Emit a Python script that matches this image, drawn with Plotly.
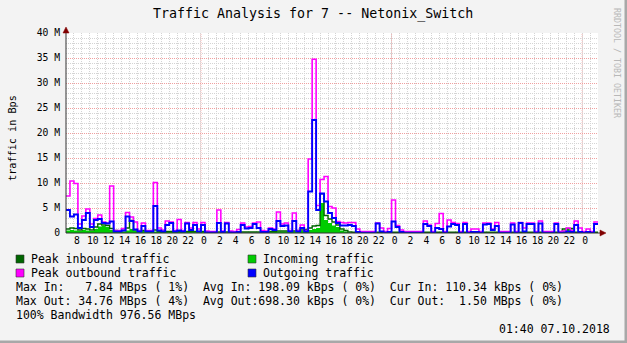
import plotly.graph_objects as go

# ---------------- data (hours since 04.10.2018 00:00, 30-minute bins from 07:00) ----------------
start_hour = 7.0
bin_hours = 0.5

peak_out = [7.4, 10.4, 9.9, 1.8, 3.4, 4.8, 1.8, 2.9, 3.6, 2.2,
            2.0, 9.4, 0.5, 0.5, 0.9, 4.1, 3.2, 2.2, 0.5, 2.0,
            0.5, 0.5, 10.1, 1.0, 0.6, 2.4, 2.2, 0.5, 2.7, 0.5,
            2.1, 1.0, 2.1, 0.8, 2.1, 0.4, 0.3, 0.3, 4.6, 0.4,
            2.1, 0.4, 0.3, 0.7, 2.0, 1.2, 1.3, 2.0, 2.2, 0.5,
            0.4, 1.0, 0.8, 4.2, 1.8, 2.0, 0.5, 4.0, 0.5, 1.6,
            0.5, 14.8, 34.76, 5.5, 10.7, 11.3, 5.3, 5.0, 2.3, 2.1,
            2.0, 2.1, 2.1, 0.8, 0.3, 0.3, 0.3, 0.3, 2.0, 1.0,
            0.3, 0.9, 6.6, 1.5, 0.6, 0.3, 0.3, 0.3, 0.3, 0.3,
            2.4, 1.6, 0.3, 1.9, 3.9, 0.3, 2.6, 2.1, 1.9, 0.3,
            2.1, 0.3, 0.8, 0.8, 0.3, 2.0, 2.0, 0.8, 2.1, 0.3,
            0.3, 0.3, 2.0, 0.3, 2.1, 1.0, 2.0, 2.0, 0.3, 2.4,
            0.3, 0.3, 0.3, 2.0, 0.3, 0.4, 1.0, 0.5, 2.4, 1.0,
            0.3, 0.8, 0.3, 2.2]

outgoing = [4.6, 3.3, 3.7, 1.0, 2.6, 4.0, 1.2, 2.6, 2.8, 2.0,
            1.9, 2.3, 0.3, 0.3, 0.5, 3.3, 2.4, 0.7, 0.3, 1.4,
            0.3, 0.3, 5.4, 0.5, 0.3, 1.6, 2.0, 0.3, 0.5, 0.3,
            1.9, 0.6, 1.6, 0.3, 1.6, 0.1, 0.1, 0.1, 2.0, 0.2,
            1.9, 0.1, 0.1, 0.2, 1.6, 0.9, 1.0, 1.8, 1.0, 0.2,
            0.2, 0.8, 0.6, 2.4, 1.4, 1.5, 0.3, 2.4, 0.3, 1.0,
            0.3, 8.3, 22.6, 4.6, 7.9, 6.3, 4.0, 3.0, 2.0, 1.5,
            1.5, 1.6, 1.4, 0.2, 0.05, 0.05, 0.05, 0.05, 1.9, 0.3,
            0.05, 0.2, 2.3, 1.2, 0.2, 0.05, 0.05, 0.05, 0.05, 0.05,
            1.8, 1.4, 0.05, 1.0, 0.8, 0.05, 1.3, 1.8, 1.6, 0.05,
            1.8, 0.05, 0.2, 0.2, 0.05, 1.7, 1.8, 0.6, 1.4, 0.05,
            0.05, 0.05, 1.7, 0.05, 2.0, 0.3, 1.8, 1.8, 0.05, 1.9,
            0.05, 0.05, 0.05, 1.8, 0.05, 0.05, 0.3, 0.2, 1.6, 0.2,
            0.05, 0.2, 0.05, 1.8]

incoming = [0.5, 0.6, 0.5, 0.4, 0.6, 0.5, 0.4, 0.8, 1.3, 1.4,
            1.2, 0.6, 0.3, 0.3, 0.3, 0.5, 0.8, 0.4, 0.3, 0.4,
            0.3, 0.3, 0.3, 0.2, 0.2, 0.2, 0.2, 0.2, 0.2, 0.2,
            0.2, 0.2, 0.2, 0.2, 0.2, 0.1, 0.1, 0.1, 0.1, 0.1,
            0.1, 0.1, 0.1, 0.1, 0.1, 0.1, 0.1, 0.1, 0.1, 0.1,
            0.1, 0.2, 0.2, 0.3, 0.3, 0.3, 0.3, 0.3, 0.3, 0.4,
            0.5, 0.6, 0.8, 1.0, 6.0, 2.6, 2.0, 1.5, 1.2, 0.5,
            0.3, 0.1, 0.05, 0.05, 0.05, 0.05, 0.05, 0.05, 0.05, 0.05,
            0.05, 0.05, 0.05, 0.05, 0.05, 0.05, 0.05, 0.05, 0.05, 0.05,
            0.05, 0.05, 0.05, 0.05, 0.05, 0.05, 0.05, 0.05, 0.05, 0.05,
            0.05, 0.05, 0.05, 0.05, 0.05, 0.05, 0.05, 0.05, 0.05, 0.05,
            0.05, 0.05, 0.05, 0.05, 0.05, 0.05, 0.05, 0.05, 0.05, 0.05,
            0.05, 0.05, 0.05, 0.05, 0.05, 0.5, 0.8, 0.7, 0.05, 0.05,
            0.05, 0.05, 0.05, 0.05]

peak_in = [0.8, 1.0, 0.9, 0.6, 0.9, 0.8, 0.6, 1.2, 1.8, 1.6,
           1.5, 0.9, 0.5, 0.4, 0.5, 1.0, 2.5, 0.6, 0.4, 0.5,
           0.4, 0.4, 0.6, 0.3, 0.3, 0.3, 0.3, 0.3, 0.3, 0.3,
           0.3, 0.3, 0.3, 0.3, 0.3, 0.2, 0.2, 0.2, 0.2, 0.2,
           0.2, 0.2, 0.2, 0.2, 0.2, 0.2, 0.2, 0.2, 0.2, 0.2,
           0.2, 0.3, 0.3, 0.4, 0.4, 0.4, 0.4, 0.4, 0.5, 0.6,
           0.7, 1.0, 1.4, 1.5, 7.84, 3.5, 2.8, 2.2, 1.6, 0.8,
           0.5, 0.2, 0.15, 0.15, 0.15, 0.15, 0.15, 0.15, 0.15, 0.15,
           0.15, 0.15, 0.15, 0.15, 0.15, 0.15, 0.15, 0.15, 0.15, 0.15,
           0.15, 0.15, 0.15, 0.15, 0.15, 0.15, 0.15, 0.15, 0.15, 0.15,
           0.15, 0.15, 0.15, 0.15, 0.15, 0.15, 0.15, 0.15, 0.15, 0.15,
           0.15, 0.15, 0.15, 0.15, 0.15, 0.15, 0.15, 0.15, 0.15, 0.15,
           0.15, 0.15, 0.15, 0.15, 0.15, 0.8, 0.9, 0.9, 0.15, 0.15,
           0.15, 0.15, 0.15, 0.15]

tick_hours = list(range(8, 73, 2))
tick_text = ["8", "10", "12", "14", "16", "18", "20", "22",
             "0", "2", "4", "6", "8", "10", "12", "14", "16", "18", "20", "22",
             "0", "2", "4", "6", "8", "10", "12", "14", "16", "18", "20", "22", "0"]
midnight_hours = [24, 48, 72]
y_tick_vals = [0, 5, 10, 15, 20, 25, 30, 35, 40]
y_tick_text = ["0", "5 M", "10 M", "15 M", "20 M", "25 M", "30 M", "35 M", "40 M"]

title_text = "Traffic Analysis for 7 -- Netonix_Switch"
legend_items = [("Peak inbound traffic", "#006600"), ("Incoming traffic", "#00cc00"),
                ("Peak outbound traffic", "#ff00ff"), ("Outgoing traffic", "#0000ff")]
stat_lines = ["Max In:   7.84 MBps ( 1%)  Avg In: 198.09 kBps ( 0%)  Cur In: 110.34 kBps ( 0%)",
              "Max Out: 34.76 MBps ( 4%)  Avg Out:698.30 kBps ( 0%)  Cur Out:  1.50 MBps ( 0%)",
              "100% Bandwidth 976.56 MBps"]
stamp_text = "01:40 07.10.2018"

# ---------------- geometry ----------------
W, H = 627, 343
L, R, T, B = 66, 598, 33, 233
MONO = "DejaVu Sans Mono"


def px(x):
    return (x - L) / (R - L)


def py(y):
    return (B - y) / (B - T)


n = len(peak_out)
edges = [start_hour + i * bin_hours for i in range(n + 1)]


def stepped(vals):
    return list(vals) + [vals[-1]]


fig = go.Figure()
fig.add_trace(go.Scatter(x=edges, y=stepped(incoming), mode="lines",
                         line=dict(shape="hv", width=0, color="#00cc00"),
                         fill="tozeroy", fillcolor="#00cc00", hoverinfo="skip"))
fig.add_trace(go.Scatter(x=edges, y=stepped(peak_in), mode="lines",
                         line=dict(shape="hv", width=1.4, color="#006600"), hoverinfo="skip"))
fig.add_trace(go.Scatter(x=edges, y=stepped(peak_out), mode="lines",
                         line=dict(shape="hv", width=1.6, color="#ff00ff"), hoverinfo="skip"))
fig.add_trace(go.Scatter(x=edges, y=stepped(outgoing), mode="lines",
                         line=dict(shape="hv", width=1.9, color="#0000ff"), hoverinfo="skip"))

shapes = []
# red major vertical grid at midnight
for h in midnight_hours:
    shapes.append(dict(type="line", xref="x", yref="paper", x0=h, x1=h, y0=0, y1=1,
                       line=dict(color="#f2b4b4", width=1, dash="1px,1px"), layer="between"))
# axis lines
shapes.append(dict(type="line", xref="paper", yref="paper", x0=px(L), x1=px(602), y0=0, y1=0,
                   line=dict(color="#333333", width=1), layer="above"))
shapes.append(dict(type="line", xref="paper", yref="paper", x0=0, x1=0, y0=0, y1=py(29),
                   line=dict(color="#333333", width=1), layer="above"))
# arrows
shapes.append(dict(type="path", xref="paper", yref="paper",
                   path=f"M {px(600)} {py(230)} L {px(606)} {py(233)} L {px(600)} {py(236)} Z",
                   fillcolor="#800000", line=dict(color="#800000", width=0.5), layer="above"))
shapes.append(dict(type="path", xref="paper", yref="paper",
                   path=f"M {px(63)} {py(33)} L {px(66)} {py(27)} L {px(69)} {py(33)} Z",
                   fillcolor="#800000", line=dict(color="#800000", width=0.5), layer="above"))
# 3D frame of the image
shapes.append(dict(type="rect", xref="paper", yref="paper", x0=px(624.5), x1=px(628), y0=py(-1), y1=py(344),
                   fillcolor="#a8a8a8", line=dict(width=0), layer="above"))
shapes.append(dict(type="rect", xref="paper", yref="paper", x0=px(-1), x1=px(628), y0=py(340.5), y1=py(344),
                   fillcolor="#a8a8a8", line=dict(width=0), layer="above"))

annotations = []
annotations.append(dict(text=title_text, x=px(313), y=py(14), xref="paper", yref="paper",
                        xanchor="center", yanchor="middle", showarrow=False,
                        font=dict(family=MONO, size=13.3, color="#000000")))
annotations.append(dict(text="traffic in Bps", x=px(12), y=py(138), xref="paper", yref="paper",
                        xanchor="center", yanchor="middle", showarrow=False, textangle=-90,
                        font=dict(family=MONO, size=10.2, color="#000000")))
annotations.append(dict(text="RRDTOOL / TOBI OETIKER", x=px(617), y=py(6), xref="paper", yref="paper",
                        xanchor="center", yanchor="top", showarrow=False, textangle=90,
                        font=dict(family=MONO, size=8.3, color="#b8b8b8")))

leg_pos = [(16, 259), (248, 259), (16, 273), (248, 273)]
for (name, col), (lx, ly) in zip(legend_items, leg_pos):
    shapes.append(dict(type="rect", xref="paper", yref="paper", x0=px(lx), x1=px(lx + 8),
                       y0=py(ly - 4), y1=py(ly + 4), fillcolor=col,
                       line=dict(color="#333333", width=0.6), layer="above"))
    annotations.append(dict(text=name.replace(" ", "\u00a0"), x=px(lx + 13), y=py(ly),
                            xref="paper", yref="paper", xanchor="left", yanchor="middle",
                            showarrow=False, font=dict(family=MONO, size=11.5, color="#000000")))
for i, line in enumerate(stat_lines):
    annotations.append(dict(text=line.replace(" ", "\u00a0"), x=px(14), y=py(287 + 14 * i),
                            xref="paper", yref="paper", xanchor="left", yanchor="middle",
                            showarrow=False, font=dict(family=MONO, size=11.5, color="#000000")))
annotations.append(dict(text=stamp_text, x=px(612), y=py(329), xref="paper", yref="paper",
                        xanchor="right", yanchor="middle", showarrow=False,
                        font=dict(family=MONO, size=11.5, color="#000000")))

fig.update_layout(
    width=W, height=H,
    margin=dict(l=L, r=W - R, t=T, b=H - B, pad=0),
    paper_bgcolor="#f3f3f3", plot_bgcolor="#ffffff",
    showlegend=False,
    shapes=shapes, annotations=annotations,
    xaxis=dict(range=[start_hour, start_hour + n * bin_hours], tickmode="array",
               tickvals=tick_hours, ticktext=tick_text, ticks="", showline=False, zeroline=False,
               showgrid=True, gridcolor="#d4d4d4", griddash="1px,1px", gridwidth=1,
               minor=dict(dtick=1, tick0=0, showgrid=True, gridcolor="#d4d4d4",
                          griddash="1px,1px", gridwidth=1),
               ticklabelshift=3,
               tickfont=dict(family=MONO, size=9.7, color="#000000")),
    yaxis=dict(range=[0, 40], tickmode="array", tickvals=y_tick_vals, ticktext=y_tick_text,
               ticks="", showline=False, zeroline=False, ticklabelstandoff=5,
               showgrid=True, gridcolor="#f0a0a0", griddash="1px,1px", gridwidth=1,
               minor=dict(dtick=1, tick0=0, showgrid=True, gridcolor="#d4d4d4",
                          griddash="1px,1px", gridwidth=1),
               tickfont=dict(family=MONO, size=9.7, color="#000000")),
)

fig.write_html("out.html")
